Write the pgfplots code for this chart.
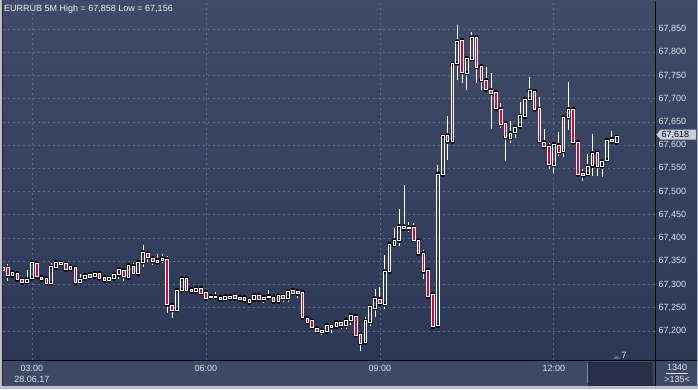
\documentclass[border=0pt]{standalone}
\usepackage{fontspec}
\setmainfont{Liberation Sans}
\usepackage{pgfplots}
\usepackage{pgfplotstable}
\pgfplotsset{compat=1.18}
\definecolor{bgtop}{HTML}{3F4B67}
\definecolor{bgbot}{HTML}{2C3856}
\definecolor{panel}{HTML}{3D4965}
\definecolor{darkbox}{HTML}{263049}
\definecolor{outer}{HTML}{B8C0CD}
\definecolor{gridc}{HTML}{5A6A88}
\definecolor{txt}{HTML}{DDE3EC}
\definecolor{candred}{HTML}{E8002A}
\definecolor{tagfill}{HTML}{C9CED8}

\pgfplotstableread{
n O H L C
1 67.331 67.338 67.329 67.336
2 67.336 67.344 67.308 67.319
3 67.319 67.326 67.316 67.326
4 67.324 67.326 67.308 67.310
5 67.310 67.312 67.303 67.304
6 67.305 67.331 67.304 67.311
7 67.313 67.350 67.312 67.348
8 67.346 67.347 67.316 67.317
9 67.316 67.320 67.310 67.311
10 67.313 67.317 67.300 67.303
11 67.303 67.347 67.300 67.338
12 67.336 67.349 67.335 67.348
13 67.344 67.349 67.341 67.347
14 67.345 67.347 67.329 67.332
15 67.333 67.342 67.330 67.338
16 67.336 67.337 67.303 67.304
17 67.305 67.323 67.304 67.310
18 67.313 67.324 67.310 67.320
19 67.322 67.323 67.315 67.316
20 67.317 67.329 67.316 67.325
21 67.324 67.325 67.311 67.313
22 67.315 67.317 67.305 67.309
23 67.309 67.321 67.307 67.315
24 67.313 67.321 67.310 67.321
25 67.321 67.336 67.312 67.333
26 67.331 67.335 67.308 67.318
27 67.315 67.342 67.314 67.341
28 67.340 67.346 67.323 67.325
29 67.323 67.349 67.322 67.348
30 67.348 67.385 67.338 67.369
31 67.366 67.369 67.348 67.359
32 67.356 67.359 67.341 67.350
33 67.347 67.366 67.346 67.353
34 67.353 67.365 67.346 67.356
35 67.354 67.362 67.238 67.257
36 67.256 67.260 67.229 67.245
37 67.245 67.289 67.244 67.288
38 67.288 67.314 67.287 67.313
39 67.313 67.316 67.287 67.288
40 67.290 67.293 67.284 67.285
41 67.285 67.297 67.282 67.292
42 67.292 67.293 67.281 67.282
43 67.284 67.285 67.269 67.270
44 67.273 67.276 67.268 67.275
45 67.273 67.283 67.268 67.274
46 67.273 67.276 67.266 67.267
47 67.269 67.279 67.266 67.275
48 67.270 67.280 67.268 67.275
49 67.276 67.280 67.268 67.270
50 67.273 67.275 67.265 67.267
51 67.273 67.275 67.262 67.265
52 67.261 67.270 67.260 67.267
53 67.267 67.281 67.266 67.277
54 67.277 67.281 67.265 67.267
55 67.267 67.275 67.260 67.273
56 67.272 67.288 67.268 67.275
57 67.273 67.275 67.262 67.263
58 67.263 67.278 67.261 67.276
59 67.276 67.281 67.263 67.270
60 67.270 67.286 67.262 67.285
61 67.288 67.289 67.277 67.282
62 67.286 67.290 67.272 67.280
63 67.284 67.285 67.224 67.229
64 67.227 67.231 67.217 67.219
65 67.222 67.223 67.206 67.208
66 67.206 67.210 67.198 67.200
67 67.198 67.204 67.191 67.201
68 67.199 67.213 67.198 67.213
69 67.208 67.213 67.195 67.211
70 67.209 67.219 67.204 67.219
71 67.218 67.222 67.204 67.211
72 67.212 67.223 67.204 67.223
73 67.223 67.234 67.214 67.234
74 67.232 67.234 67.189 67.191
75 67.192 67.194 67.156 67.174
76 67.175 67.231 67.172 67.222
77 67.219 67.256 67.211 67.252
78 67.249 67.290 67.231 67.270
79 67.268 67.295 67.257 67.259
80 67.257 67.364 67.247 67.328
81 67.328 67.392 67.325 67.387
82 67.385 67.421 67.382 67.395
83 67.394 67.462 67.383 67.425
84 67.420 67.514 67.419 67.425
85 67.420 67.434 67.412 67.423
86 67.423 67.433 67.392 67.396
87 67.395 67.396 67.365 67.366
88 67.367 67.374 67.311 67.328
89 67.331 67.332 67.272 67.274
90 67.279 67.285 67.208 67.209
91 67.211 67.557 67.209 67.538
92 67.536 67.621 67.535 67.620
93 67.621 67.663 67.568 67.608
94 67.608 67.776 67.607 67.775
95 67.776 67.858 67.740 67.823
96 67.826 67.828 67.734 67.757
97 67.755 67.787 67.719 67.787
98 67.785 67.843 67.783 67.832
99 67.832 67.837 67.734 67.768
100 67.770 67.775 67.718 67.740
101 67.740 67.768 67.715 67.719
102 67.718 67.755 67.635 67.712
103 67.714 67.714 67.675 67.678
104 67.677 67.690 67.636 67.645
105 67.646 67.647 67.565 67.617
106 67.615 67.652 67.604 67.626
107 67.628 67.641 67.615 67.638
108 67.640 67.693 67.639 67.663
109 67.661 67.700 67.660 67.699
110 67.699 67.746 67.697 67.717
111 67.716 67.717 67.676 67.677
112 67.678 67.704 67.607 67.609
113 67.606 67.635 67.596 67.597
114 67.597 67.604 67.549 67.559
115 67.557 67.602 67.539 67.602
116 67.600 67.628 67.577 67.585
117 67.587 67.660 67.574 67.660
118 67.660 67.736 67.633 67.677
119 67.677 67.677 67.604 67.606
120 67.606 67.606 67.536 67.537
121 67.539 67.549 67.523 67.535
122 67.537 67.582 67.531 67.554
123 67.556 67.625 67.534 67.582
124 67.584 67.590 67.534 67.555
125 67.554 67.570 67.531 67.565
126 67.568 67.613 67.566 67.611
127 67.613 67.630 67.602 67.607
128 67.605 67.621 67.600 67.618
}\candles

\begin{document}
\begin{tikzpicture}[x=1pt,y=1pt]
\useasboundingbox (0,0) rectangle (698,389);
\fill[outer] (0,0) rectangle (698,389);
\shade[top color=bgtop, bottom color=bgbot] (2,28.5) rectangle (697,388);
\fill[panel] (2,3) rectangle (697,28.5);
\fill[darkbox] (588,3.5) rectangle (653,27.5);
\draw[color=gridc!80, line width=1pt] (587,6) -- (587,26);

\begin{axis}[
  at={(3pt,29pt)}, anchor=south west, scale only axis,
  width=652pt, height=357pt,
  xmin=1.03, xmax=135.93, ymin=67.1376, ymax=67.9059,
  axis line style={draw=none}, major tick length=0pt,
  xtick={7,43,79,115},
  xticklabels={{03:00\\28.06.17},06:00,09:00,12:00},
  xticklabel style={align=center, yshift=-1.5pt},
  ytick={67.2,67.25,67.3,67.35,67.4,67.45,67.5,67.55,67.6,67.65,67.7,67.75,67.8,67.85},
  yticklabel pos=right,
  yticklabel style={anchor=west, /pgf/number format/fixed, /pgf/number format/fixed zerofill,
    /pgf/number format/precision=3, /pgf/number format/use comma,
    /pgf/number format/assume math mode=true},
  tick label style={font=\fontsize{9}{10.8}\selectfont, text=txt},
  grid=major,
  major grid style={gridc, dash pattern=on 2pt off 3pt, line width=0.7pt},
]
\addplot[only marks, mark=none,
  error bars/.cd, y dir=plus, y explicit, error mark=none,
  error bar style={draw=white, line width=0.9pt, solid}]
  table[x=n, y expr={max(\thisrow{O},\thisrow{C})},
        y error plus expr={\thisrow{H}-max(\thisrow{O},\thisrow{C})}] {\candles};
\addplot[only marks, mark=none,
  error bars/.cd, y dir=minus, y explicit, error mark=none,
  error bar style={draw=white, line width=0.9pt, solid}]
  table[x=n, y expr={min(\thisrow{O},\thisrow{C})},
        y error minus expr={min(\thisrow{O},\thisrow{C})-\thisrow{L}}] {\candles};
\end{axis}

\begin{axis}[
  at={(3pt,29pt)}, anchor=south west, scale only axis,
  width=652pt, height=357pt,
  xmin=1.03, xmax=135.93, ymin=67.1376, ymax=67.9059,
  hide axis, ybar stacked, bar width=2.6pt,
]
\addplot[draw=none, fill=none] table[x=n, y expr={min(\thisrow{O},\thisrow{C})}] {\candles};
\addplot[draw=white, fill=candred, line width=0.8pt] table[x=n, y expr={max(\thisrow{O}-\thisrow{C},0)}] {\candles};
\addplot[draw=white, fill=none, line width=0.8pt] table[x=n, y expr={max(\thisrow{C}-\thisrow{O},0)}] {\candles};
\end{axis}

% frame and separators
\draw[black, line width=1pt] (655.5,3) -- (655.5,388);
\draw[black, line width=1pt] (2,28.5) -- (697,28.5);
\draw[color=black!85, line width=1pt] (2.5,3) -- (2.5,388);

% title
\node[anchor=base west, inner sep=0, text=txt!60!white, font=\fontsize{9}{10.8}\selectfont] at (4,377.5) {EURRUB 5M High = 67,858 Low = 67,156};

% price tag
\fill[tagfill] (656.5,254.5) -- (660.5,259.5) -- (696,259.5) -- (696,249.5) -- (660.5,249.5) -- cycle;
\node[anchor=west, inner sep=0, text=black!85!blue, font=\fontsize{9}{10.8}\selectfont] at (661.5,254.5) {67,618};

% bottom right panel
\node[text=txt, font=\fontsize{9}{10.8}\selectfont, inner sep=0] at (677,22) {1340};
\draw[txt, line width=0.6pt] (666,15.5) -- (688,15.5);
\node[text=txt, font=\fontsize{9}{10.8}\selectfont, inner sep=0] at (677,9.5) {>135<};

% marker 7
\fill[gridc!90] (613,30.5) -- (620,30.5) -- (616.5,33) -- cycle;
\node[text=txt, font=\fontsize{9}{10.8}\selectfont, inner sep=0] at (624,34) {7};
\end{tikzpicture}
\end{document}
